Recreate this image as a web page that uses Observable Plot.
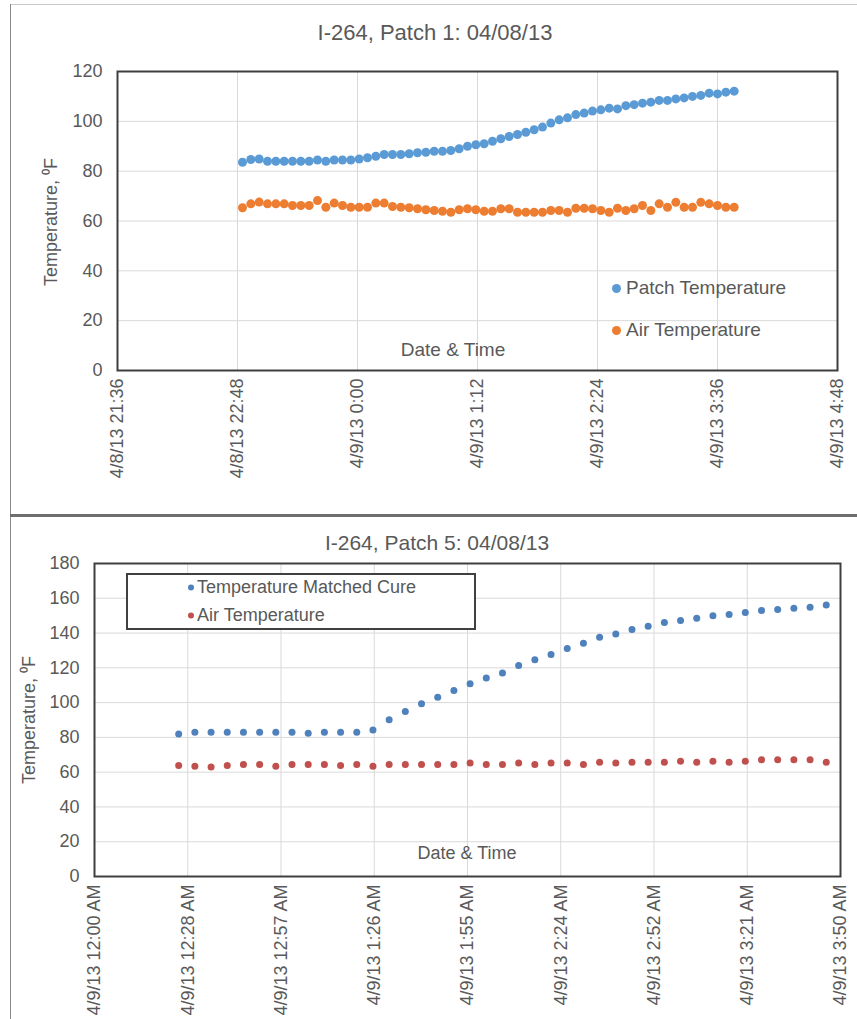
<!DOCTYPE html>
<html><head><meta charset="utf-8">
<script src="https://cdn.jsdelivr.net/npm/d3@7"></script>
<script src="https://cdn.jsdelivr.net/npm/@observablehq/plot@0.6"></script>
<style>
body{margin:0;background:#fff;}
#wrap{position:relative;width:857px;height:1019px;overflow:hidden;font-family:"Liberation Sans",Arial,sans-serif;color:#595959;}
.abs{position:absolute;white-space:nowrap;}
.ctr{transform:translate(-50%,-50%);}
.rot{transform:translate(-50%,-50%) rotate(-90deg);}
.row{display:flex;align-items:center;transform:translateY(-50%);}
.dot{display:inline-block;border-radius:50%;}
.line{position:absolute;}
</style></head><body>
<div id="wrap">
  <div id="c1" class="abs" style="left:0;top:0"></div>
  <div id="c2" class="abs" style="left:0;top:515px"></div>
</div>
<script>
// ---------- Chart 1 data ----------
const title1 = "I-264, Patch 1: 04/08/13";
const names1 = ["Patch Temperature", "Air Temperature"];
const colors1 = ["#5b9bd5", "#ed7d31"];
const start1 = new Date(2013, 3, 8, 22, 51);
const stepMin1 = 5;
const patch1 = [83.6,84.7,84.9,84.0,84.0,84.0,84.0,84.0,84.0,84.5,
                84.0,84.5,84.5,84.5,84.9,85.4,86.0,86.7,86.7,86.7,
                87.0,87.4,87.6,88.0,88.0,88.3,89.0,90.0,90.6,91.0,
                92.0,93.0,93.9,94.7,95.6,96.6,97.7,99.3,100.6,101.4,
                102.7,103.3,104.1,104.6,105.3,105.0,106.3,106.7,107.3,107.7,
                108.4,108.4,109.0,109.4,110.0,110.4,111.3,111.0,111.7,112.1];
const air1 = [65.3,66.9,67.6,66.9,66.9,66.9,66.2,66.2,66.2,68.2,
              65.5,67.2,66.2,65.5,65.5,65.5,67.2,67.2,65.8,65.5,
              65.3,64.9,64.5,64.2,63.9,63.5,64.5,64.9,64.5,63.9,
              63.9,64.9,64.9,63.5,63.5,63.5,63.5,64.2,64.2,63.5,
              65.1,65.1,64.9,64.2,63.5,65.1,64.2,64.9,66.2,64.2,
              66.9,65.5,67.5,65.5,65.5,67.5,66.9,66.2,65.5,65.5];
const yTicks1 = [0, 20, 40, 60, 80, 100, 120];
const xTicks1 = [new Date(2013,3,8,21,36), new Date(2013,3,8,22,48), new Date(2013,3,9,0,0),
                 new Date(2013,3,9,1,12), new Date(2013,3,9,2,24), new Date(2013,3,9,3,36),
                 new Date(2013,3,9,4,48)];
const xLabels1 = ["4/8/13 21:36","4/8/13 22:48","4/9/13 0:00","4/9/13 1:12","4/9/13 2:24","4/9/13 3:36","4/9/13 4:48"];

// ---------- Chart 2 data ----------
const title2 = "I-264, Patch 5: 04/08/13";
const names2 = ["Temperature Matched Cure", "Air Temperature"];
const colors2 = ["#4f81bd", "#c0504d"];
const start2 = new Date(2013, 3, 9, 0, 26);
const stepMin2 = 5;
const tmc2 = [82.0,83.0,83.0,83.0,83.0,83.0,83.0,83.0,82.4,83.0,
              83.0,83.0,84.3,90.1,94.9,99.3,103.1,107.0,110.8,114.2,
              117.1,121.3,124.6,127.6,131.1,134.2,137.6,139.5,142.0,143.9,
              146.0,147.2,148.5,149.9,150.7,151.8,153.0,153.5,154.3,154.9,156.2];
const air2 = [63.8,63.4,62.9,63.8,64.4,64.4,63.4,64.4,64.4,64.4,
              63.8,64.4,63.4,64.4,64.4,64.4,64.4,64.4,65.2,64.4,
              64.4,65.2,64.4,65.2,65.2,64.4,65.7,65.2,65.7,65.7,
              65.7,66.3,65.7,66.3,65.7,66.3,67.1,67.1,67.1,67.1,65.7];
const yTicks2 = [0, 20, 40, 60, 80, 100, 120, 140, 160, 180];
const xTicks2 = [new Date(2013,3,9,0,0,0), new Date(2013,3,9,0,28,48), new Date(2013,3,9,0,57,36),
                 new Date(2013,3,9,1,26,24), new Date(2013,3,9,1,55,12), new Date(2013,3,9,2,24,0),
                 new Date(2013,3,9,2,52,48), new Date(2013,3,9,3,21,36), new Date(2013,3,9,3,50,24)];
const xLabels2 = ["4/9/13 12:00 AM","4/9/13 12:28 AM","4/9/13 12:57 AM","4/9/13 1:26 AM","4/9/13 1:55 AM",
                  "4/9/13 2:24 AM","4/9/13 2:52 AM","4/9/13 3:21 AM","4/9/13 3:50 AM"];

const yLabel = "Temperature, \u2070F";
const xLabel = "Date & Time";

function series(start, step, vals, name) {
  return vals.map((v, i) => ({t: d3.timeMinute.offset(start, i * step), v, name}));
}

const font = "'Liberation Sans', Arial, sans-serif";

function chart({height, margins, yTicks, xTicks, xLabels, data, colors, names, r, tickFont}) {
  const lab = new Map(xTicks.map((d, i) => [+d, xLabels[i]]));
  return Plot.plot({
    width: 857, height,
    marginLeft: margins[0], marginRight: margins[1], marginTop: margins[2], marginBottom: margins[3],
    style: {fontFamily: font, fontSize: tickFont + "px", color: "#595959", background: "transparent", overflow: "visible"},
    x: {type: "utc", domain: [xTicks[0], xTicks[xTicks.length - 1]]},
    y: {domain: [yTicks[0], yTicks[yTicks.length - 1]]},
    color: {domain: names, range: colors},
    marks: [
      Plot.gridY(yTicks, {stroke: "#d9d9d9", strokeOpacity: 1, strokeWidth: 1}),
      Plot.gridX(xTicks, {stroke: "#d9d9d9", strokeOpacity: 1, strokeWidth: 1}),
      Plot.axisY({ticks: yTicks, tickSize: 0, tickPadding: 15, label: null, fontSize: tickFont}),
      Plot.axisX({ticks: xTicks, tickSize: 0, tickPadding: 8, tickRotate: -90, label: null,
                  fontSize: tickFont, tickFormat: d => lab.get(+d)}),
      Plot.dot(data, {x: "t", y: "v", fill: "name", r, stroke: null}),
      Plot.frame({stroke: "#3f3f3f", strokeWidth: 2})
    ]
  });
}

const data1 = [...series(start1, stepMin1, air1, names1[1]), ...series(start1, stepMin1, patch1, names1[0])];
const data2 = [...series(start2, stepMin2, air2, names2[1]), ...series(start2, stepMin2, tmc2, names2[0])];

document.getElementById("c1").appendChild(chart({
  height: 515, margins: [117, 20, 71, 145], yTicks: yTicks1, xTicks: xTicks1, xLabels: xLabels1,
  data: data1, colors: colors1, names: names1, r: 4.5, tickFont: 18
}));
document.getElementById("c2").appendChild(chart({
  height: 504, margins: [94, 17, 48, 143], yTicks: yTicks2, xTicks: xTicks2, xLabels: xLabels2,
  data: data2, colors: colors2, names: names2, r: 3.5, tickFont: 18
}));

// ---------- HTML overlays: titles, labels, legends, panel lines ----------
const wrap = document.getElementById("wrap");
function add(html, style, cls) {
  const d = document.createElement("div");
  d.className = cls || "abs";
  d.setAttribute("style", style);
  d.innerHTML = html;
  wrap.appendChild(d);
  return d;
}
function esc(s) { return s.replace(/&/g, "&amp;"); }

// panel lines
add("", "left:10px;top:4px;width:847px;height:1px;background:#c8c8c8", "line");
add("", "left:10px;top:4px;width:1px;height:511px;background:#8c8c8c", "line");
add("", "left:10px;top:514px;width:847px;height:3px;background:#6e6e6e", "line");
add("", "left:10px;top:517px;width:1px;height:502px;background:#8c8c8c", "line");

// chart 1 text
add(esc(title1), "left:435px;top:33px;font-size:22px", "abs ctr");
add(esc(yLabel), "left:50px;top:222px;font-size:18px", "abs rot");
add(esc(xLabel), "left:453px;top:350px;font-size:19px", "abs ctr");
[288, 330].forEach((y, i) => {
  add(`<span class="dot" style="width:9px;height:9px;background:${colors1[i]};margin-right:5px"></span><span>${esc(names1[i])}</span>`,
      `left:612px;top:${y}px;font-size:19px`, "abs row");
});

// chart 2 text
add(esc(title2), "left:437px;top:543px;font-size:21px", "abs ctr");
add(esc(yLabel), "left:28px;top:720px;font-size:18px", "abs rot");
add(esc(xLabel), "left:467px;top:853px;font-size:18px", "abs ctr");
add("", "left:126px;top:573px;width:350px;height:57px;box-sizing:border-box;border:2px solid #404040;background:#fff", "abs");
[587, 615].forEach((y, i) => {
  add(`<span class="dot" style="width:6px;height:6px;background:${colors2[i]};margin-right:3px"></span><span>${esc(names2[i])}</span>`,
      `left:188px;top:${y}px;font-size:18px`, "abs row");
});
</script>
</body></html>
